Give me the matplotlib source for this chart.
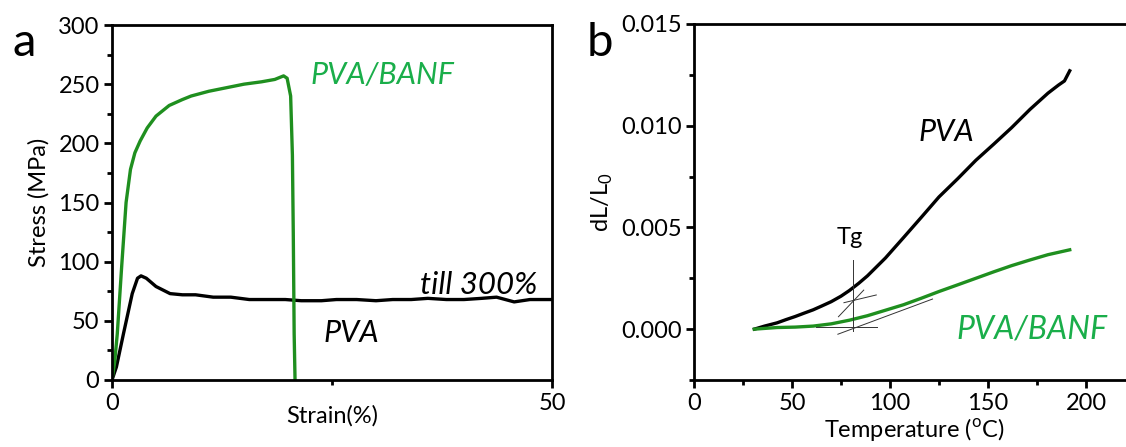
import matplotlib
matplotlib.use("Agg")
import matplotlib.pyplot as plt
from matplotlib.ticker import MultipleLocator, FormatStrFormatter

plt.rcParams["font.family"] = ["Lato", "DejaVu Sans"]
plt.rcParams["mathtext.fontset"] = "custom"
plt.rcParams["mathtext.rm"] = "Lato"

# panel a: stress-strain
banf_strain = [0, 0.3, 0.6, 1.1, 1.6, 2.1, 2.6, 3.2, 4.0, 5.0, 6.5, 8.0, 9.0, 11.0, 13.0, 15.0, 17.0, 18.5, 19.5, 19.9, 20.3, 20.5, 20.6, 20.7, 20.8]
banf_stress = [0, 15, 39, 96, 150, 178, 192, 202, 213, 223, 232, 237, 240, 244, 247, 250, 252, 254, 257, 255, 240, 190, 124, 39, 0]

pva_strain = [0, 0.5, 1.3, 2.3, 2.9, 3.3, 3.9, 5.0, 6.6, 8.0, 9.5, 11.5, 13.5, 15.6, 17.5, 19.7, 21.5, 23.8, 25.5, 27.8, 30.0, 31.9, 34.0, 35.9, 38.0, 40.0, 42.0, 43.7, 45.7, 47.5, 50.0]
pva_stress = [0, 11, 39, 73, 86, 88, 86, 79, 73, 72, 72, 70, 70, 68, 68, 68, 67, 67, 68, 68, 67, 68, 68, 69, 68, 68, 69, 70, 66, 68, 68]

# panel b: thermal expansion
pva_temp = [30.8, 36.0, 42.4, 47.0, 51.6, 56.0, 60.8, 65.0, 70.0, 75.0, 79.3, 84.0, 88.5, 93.0, 97.7, 106.9, 116.0, 125.0, 134.6, 143.8, 153.0, 162.0, 171.4, 180.6, 186.0, 189.0, 191.7]
pva_dl = [0.0, 0.00015, 0.00031, 0.00047, 0.00062, 0.00078, 0.00095, 0.00113, 0.00135, 0.00162, 0.0019, 0.00225, 0.00262, 0.00305, 0.0035, 0.0045, 0.0055, 0.0065, 0.0074, 0.0083, 0.0091, 0.0099, 0.0108, 0.0116, 0.0120, 0.0122, 0.0127]

banf_temp = [30.8, 42.4, 51.6, 60.8, 70.0, 79.3, 88.5, 97.7, 106.9, 116.0, 125.0, 134.6, 143.8, 153.0, 162.0, 171.4, 180.6, 191.7]
banf_dl = [0.0, 0.00008, 0.0001, 0.00015, 0.00026, 0.00044, 0.00066, 0.00093, 0.0012, 0.00152, 0.00185, 0.00218, 0.0025, 0.00282, 0.00312, 0.0034, 0.00366, 0.0039]

# Tg construction lines: (x0, x1), (y0, y1)
tg_lines = [
    ((81.0, 81.0), (-0.0001, 0.0034)),
    ((62.0, 93.5), (0.00011, 0.00011)),
    ((73.4, 121.7), (-0.00025, 0.00148)),
    ((73.7, 86.6), (0.00061, 0.00192)),
    ((76.5, 93.0), (0.0013, 0.00168)),
]

green_line = "#1f8f1f"
green_text = "#1aae4a"
W, H = 1126, 447

fig = plt.figure(figsize=(W / 100, H / 100), dpi=100)

def px_axes(x0, x1, y0, y1):
    return fig.add_axes([x0 / W, 1 - y1 / H, (x1 - x0) / W, (y1 - y0) / H])

def style(ax):
    for s in ax.spines.values():
        s.set_linewidth(2.0)
    ax.tick_params(which="major", direction="out", length=6, width=2, labelsize=17, pad=3)
    ax.tick_params(which="minor", direction="out", length=3.5, width=2)

ax1 = px_axes(112, 552, 25, 380)
style(ax1)
ax1.plot(pva_strain, pva_stress, color="black", lw=2.4)
ax1.plot(banf_strain, banf_stress, color=green_line, lw=2.4)
ax1.set_xlim(0, 50)
ax1.set_ylim(0, 300)
ax1.set_xticks([0, 50])
ax1.xaxis.set_minor_locator(MultipleLocator(25))
ax1.yaxis.set_major_locator(MultipleLocator(50))
ax1.yaxis.set_minor_locator(MultipleLocator(25))
ax1.set_xlabel("Strain(%)", fontsize=17, labelpad=-6)
ax1.set_ylabel("Stress (MPa)", fontsize=17, labelpad=6)
ax1.text(22.5, 258, "PVA/BANF", color=green_text, fontsize=22, style="italic", va="center")
ax1.text(35, 80, "till 300%", color="black", fontsize=22.5, style="italic", va="center")
ax1.text(24, 40, "PVA", color="black", fontsize=22, style="italic", va="center")

ax2 = px_axes(694, 1135, 24, 380)
style(ax2)
ax2.plot(pva_temp, pva_dl, color="black", lw=2.4)
ax2.plot(banf_temp, banf_dl, color=green_line, lw=2.4)
for xs, ys in tg_lines:
    ax2.plot(xs, ys, color="#333333", lw=0.7)
ax2.set_xlim(0, 225)
ax2.set_ylim(-0.0025, 0.015)
ax2.xaxis.set_major_locator(MultipleLocator(50))
ax2.xaxis.set_minor_locator(MultipleLocator(25))
ax2.yaxis.set_major_locator(MultipleLocator(0.005))
ax2.yaxis.set_minor_locator(MultipleLocator(0.0025))
ax2.yaxis.set_major_formatter(FormatStrFormatter("%.3f"))
ax2.set_xlabel("Temperature ($^{\\rm o}$C)", fontsize=17, labelpad=2)
ax2.set_ylabel("dL/L$_{\\rm 0}$", fontsize=17, labelpad=4)
ax2.text(114.3, 0.0097, "PVA", color="black", fontsize=22, style="italic", va="center")
ax2.text(133.7, 0.0, "PVA/BANF", color=green_text, fontsize=23, style="italic", va="center")
ax2.text(79.6, 0.0045, "Tg", color="black", fontsize=17, ha="center", va="center")

fig.text(12 / W, 1 - 56 / H, "a", fontsize=34, va="baseline")
fig.text(587 / W, 1 - 56 / H, "b", fontsize=34, va="baseline")

fig.savefig("out.png", dpi=100)
